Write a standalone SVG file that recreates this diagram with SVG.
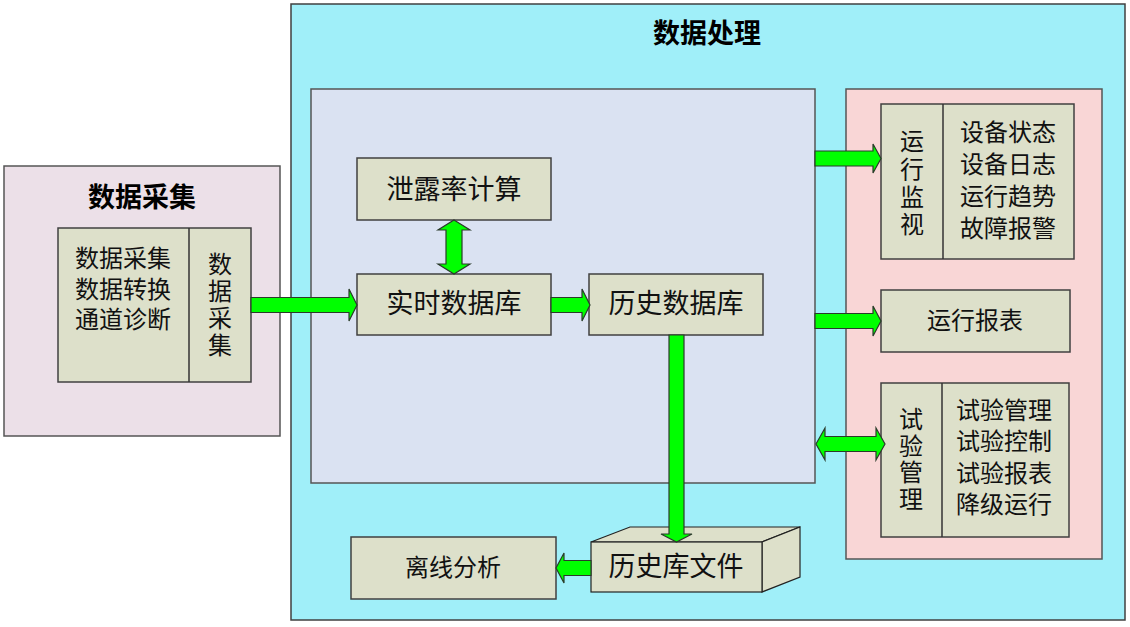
<svg xmlns="http://www.w3.org/2000/svg" width="1130" height="627" viewBox="0 0 1130 627">
<style>
.t{font-family:"Liberation Serif","Noto Sans CJK SC",serif;font-size:24px;fill:#111;text-anchor:middle;dominant-baseline:central}
.t5{font-size:27px}
.ttl{font-family:"Noto Sans CJK SC",sans-serif;font-size:27px;font-weight:bold;fill:#000;text-anchor:middle;dominant-baseline:central}
.node{fill:#dde0ca;stroke:#404040;stroke-width:1.5}
.arr{fill:#00ff00;stroke:#2a3a2a;stroke-width:1.2;stroke-linejoin:miter}
</style>
<rect width="1130" height="627" fill="#fff"/>
<g id="acq-panel">
<rect x="4" y="166" width="276" height="270" fill="#ece0e8" stroke="#555" stroke-width="1.5"/>
<text class="ttl" x="142" y="195">数据采集</text>
</g>
<g id="proc-panel">
<rect x="291" y="4" width="834" height="616" fill="#a0eff9" stroke="#404040" stroke-width="1.5"/>
<text class="ttl" x="707" y="31">数据处理</text>
<rect x="311" y="89" width="504" height="394" fill="#dae2f2" stroke="#555" stroke-width="1.5"/>
<rect x="846" y="89" width="256" height="470" fill="#f9d6d6" stroke="#555" stroke-width="1.5"/>
</g>
<g id="acq">
<rect class="node" x="58" y="228" width="193" height="154"/>
<line x1="189" y1="228" x2="189" y2="382" stroke="#333" stroke-width="1.5"/>
<text class="t" x="123" y="259">数据采集</text>
<text class="t" x="123" y="290">数据转换</text>
<text class="t" x="123" y="320">通道诊断</text>
<text class="t" x="220" y="265">数</text>
<text class="t" x="220" y="292">据</text>
<text class="t" x="220" y="319">采</text>
<text class="t" x="220" y="346">集</text>
</g>
<g id="leak">
<rect class="node" x="357" y="158" width="194" height="62"/>
<text class="t t5" x="454" y="190">泄露率计算</text>
</g>
<g id="rtdb">
<rect class="node" x="357" y="274" width="194" height="61"/>
<text class="t t5" x="454" y="304">实时数据库</text>
</g>
<g id="histdb">
<rect class="node" x="589" y="274" width="174" height="61"/>
<text class="t t5" x="676" y="304">历史数据库</text>
</g>
<g id="histfile">
<polygon points="591,542 630,527 800,527 762,542" fill="#dde0ca" stroke="#222" stroke-width="1.2"/>
<polygon points="762,542 800,527 800,577 762,592" fill="#dde0ca" stroke="#222" stroke-width="1.2"/>
<rect x="591" y="542" width="171" height="50" fill="#dde0ca" stroke="#222" stroke-width="1.2"/>
<text class="t t5" x="676" y="567">历史库文件</text>
</g>
<g id="offline">
<rect class="node" x="351" y="537" width="205" height="62"/>
<text class="t" x="453" y="568">离线分析</text>
</g>
<g id="monitor">
<rect class="node" x="881" y="104" width="193" height="155"/>
<line x1="943" y1="104" x2="943" y2="259" stroke="#333" stroke-width="1.5"/>
<text class="t" x="912" y="142">运</text>
<text class="t" x="912" y="170">行</text>
<text class="t" x="912" y="198">监</text>
<text class="t" x="912" y="225">视</text>
<text class="t" x="1008" y="133">设备状态</text>
<text class="t" x="1008" y="165">设备日志</text>
<text class="t" x="1008" y="197">运行趋势</text>
<text class="t" x="1008" y="229">故障报警</text>
</g>
<g id="report">
<rect class="node" x="881" y="290" width="189" height="62"/>
<text class="t" x="975" y="321">运行报表</text>
</g>
<g id="test">
<rect class="node" x="881" y="383" width="188" height="154"/>
<line x1="942" y1="383" x2="942" y2="537" stroke="#333" stroke-width="1.5"/>
<text class="t" x="911" y="420">试</text>
<text class="t" x="911" y="447">验</text>
<text class="t" x="911" y="473">管</text>
<text class="t" x="911" y="500">理</text>
<text class="t" x="1004" y="411">试验管理</text>
<text class="t" x="1004" y="442">试验控制</text>
<text class="t" x="1004" y="474">试验报表</text>
<text class="t" x="1004" y="505">降级运行</text>
</g>
<g id="connectors">
<polygon class="arr" points="251,297.5 349,297.5 349,289 357,305 349,321 349,312.5 251,312.5"/>
<polygon class="arr" points="551,297.5 582,297.5 582,289 590,305 582,321 582,312.5 551,312.5"/>
<polygon class="arr" points="815,151 873,151 873,144 881,158.5 873,173 873,166 815,166"/>
<polygon class="arr" points="815,313.5 873,313.5 873,306 881,321 873,336 873,328.5 815,328.5"/>
<polygon class="arr" points="816,444 825,428 825,436.5 876,436.5 876,428 885,444 876,460 876,451.5 825,451.5 825,460"/>
<polygon class="arr" points="454,220 470,230 462,230 462,264 470,264 454,274 438,264 446,264 446,230 438,230"/>
<polygon class="arr" points="669,335 684,335 684,534 692,534 676.5,542 661,534 669,534"/>
<polygon class="arr" points="591,560.5 564,560.5 564,553 556,568 564,583 564,575.5 591,575.5"/>
</g>
</svg>
